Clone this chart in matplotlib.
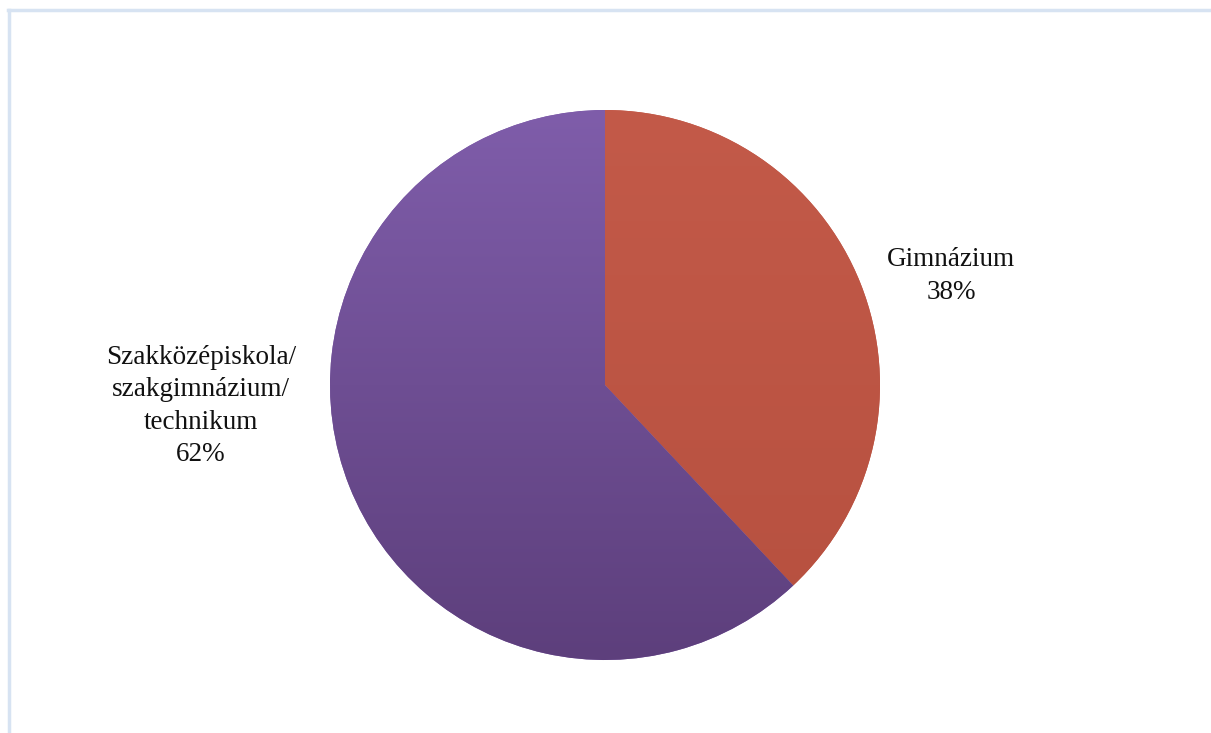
import numpy as np
import matplotlib.pyplot as plt
from matplotlib.colors import LinearSegmentedColormap
from matplotlib.lines import Line2D

labels = ['Gimnázium', 'Szakközépiskola/\nszakgimnázium/\ntechnikum']
shares = [38, 62]
top_colors = ['#C35A49', '#7F5DAA']
bottom_colors = ['#B6503F', '#5D3F7C']

W, H = 1211, 733
fig = plt.figure(figsize=(W / 100, H / 100), dpi=100)
ax = fig.add_axes([0, 0, 1, 1])

cx, cy, r = 605, H - 385, 275
wedges, _ = ax.pie(shares, startangle=90, counterclock=False,
                   center=(cx, cy), radius=r, frame=True,
                   colors=top_colors, wedgeprops=dict(linewidth=0))
ax.set_xlim(0, W)
ax.set_ylim(0, H)
ax.set_aspect('equal')
ax.axis('off')

# vertical gradient fill clipped to each wedge
grad = np.linspace(0, 1, 256).reshape(-1, 1)
for w, c0, c1 in zip(wedges, top_colors, bottom_colors):
    cmap = LinearSegmentedColormap.from_list('g', [c1, c0])
    im = ax.imshow(grad, cmap=cmap, origin='lower', aspect='auto',
                   extent=(cx - r, cx + r, cy - r, cy + r), zorder=2,
                   interpolation='bilinear')
    im.set_clip_path(w)

font = dict(family='Liberation Serif', fontsize=19.5, color='#111111',
            ha='center', va='center', linespacing=1.4)
ax.text(951, H - 276, f'{labels[0]}\n{shares[0]}%', **font)
ax.text(201, H - 406, f'{labels[1]}\n{shares[1]}%', **font)

# light frame on top and left
fig.add_artist(Line2D([8 / W, 1], [1 - 10 / H, 1 - 10 / H], color='#D7E3F2', lw=2.5))
fig.add_artist(Line2D([9 / W, 9 / W], [0, 1 - 10 / H], color='#D7E3F2', lw=2.5))

fig.savefig('out.png', dpi=100, facecolor='white')
